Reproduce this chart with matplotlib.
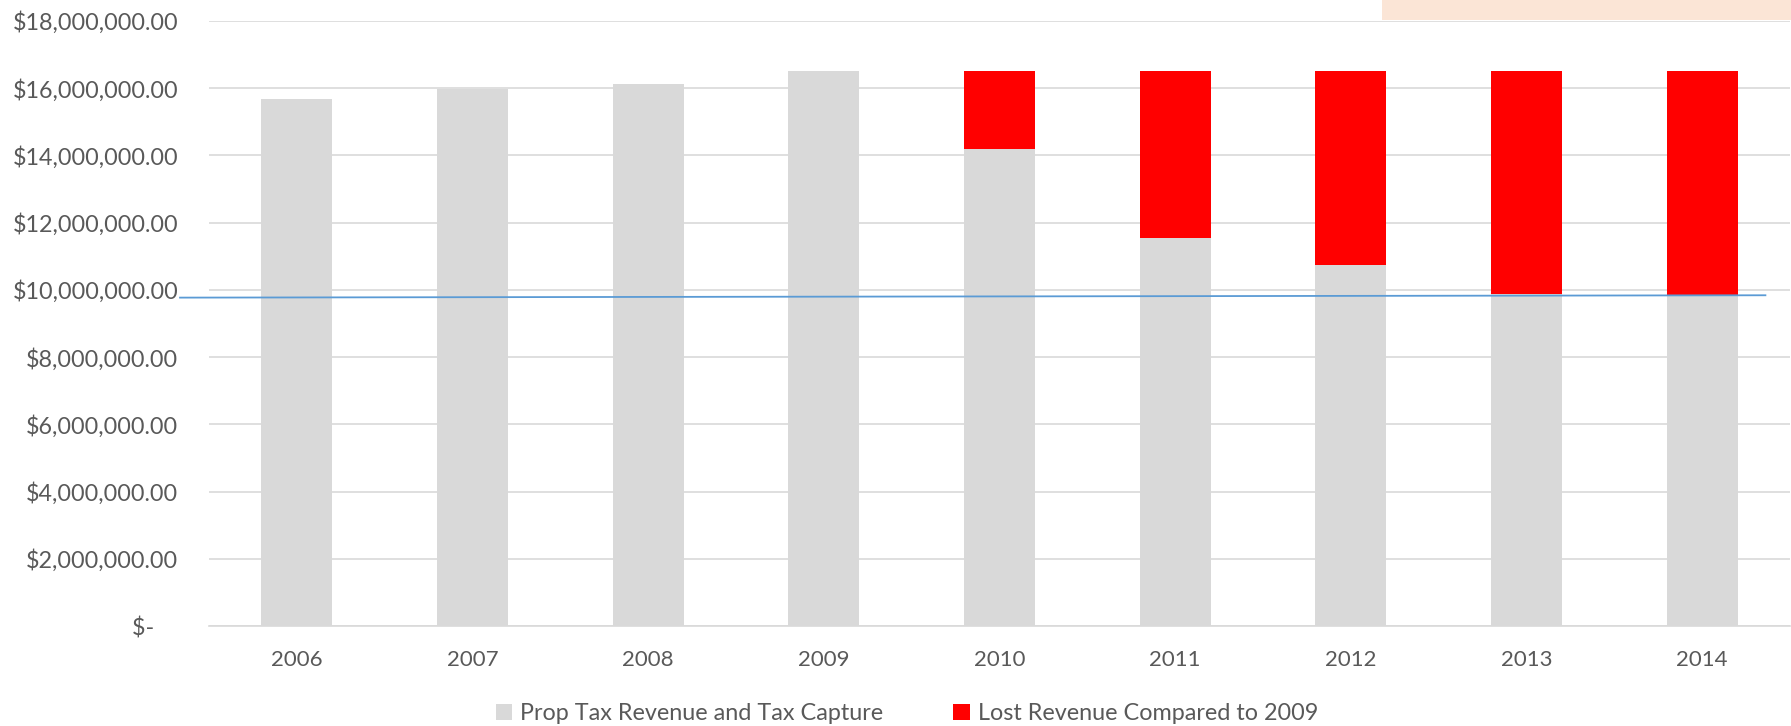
import matplotlib
matplotlib.use("Agg")
import matplotlib.pyplot as plt
from matplotlib.ticker import FuncFormatter, MultipleLocator
from matplotlib.patches import Rectangle, Patch

years = ["2006", "2007", "2008", "2009", "2010", "2011", "2012", "2013", "2014"]
prop_tax = [15.67e6, 15.99e6, 16.13e6, 16.52e6, 14.18e6, 11.54e6, 10.75e6, 9.87e6, 9.85e6]
lost_rev = [0, 0, 0, 0, 16.52e6 - 14.18e6, 16.52e6 - 11.54e6, 16.52e6 - 10.75e6,
            16.52e6 - 9.87e6, 16.52e6 - 9.85e6]
trend_x = [-0.665, 8.36]
trend_y = [9.77e6, 9.84e6]

plt.rcParams['font.family'] = ['Lato', 'DejaVu Sans']
TXT = "#595959"
W, H = 1791, 726
fig = plt.figure(figsize=(W / 100, H / 100), dpi=100)
ax = fig.add_axes([209 / W, 1 - 626 / H, (1790 - 209) / W, (626 - 21) / H])

x = list(range(len(years)))
ax.bar(x, prop_tax, width=0.404, color="#D9D9D9", zorder=2,
       label="Prop Tax Revenue and Tax Capture")
ax.bar(x, lost_rev, width=0.404, bottom=prop_tax, color="#FF0000", zorder=2,
       label="Lost Revenue Compared to 2009")

ax.plot(trend_x, trend_y, color="#5B9BD5", lw=1.3, zorder=3, clip_on=False)

ax.set_xlim(-0.5, 8.5)
ax.set_ylim(0, 18e6)
ax.yaxis.set_major_locator(MultipleLocator(2e6))


def fmt(v, pos):
    if abs(v) < 1:
        return "$-    "
    return "${:,.2f}".format(v)


ax.yaxis.set_major_formatter(FuncFormatter(fmt))
ax.set_xticks(x)
ax.set_xticklabels(years)
ax.grid(axis="y", color="#D9D9D9", lw=1.2, zorder=0)
ax.set_axisbelow(True)
for s in ["top", "right", "left"]:
    ax.spines[s].set_visible(False)
ax.spines["bottom"].set_color("#D9D9D9")
ax.spines["bottom"].set_linewidth(1.2)
ax.tick_params(axis="both", length=0, labelcolor=TXT)
ax.tick_params(axis="y", pad=22, labelsize=16.8)
ax.tick_params(axis="x", pad=17.5, labelsize=16)

# partial text box at top right
fig.patches.append(Rectangle((1382 / W, 1 - 20 / H), (W - 1382) / W, 20 / H,
                             transform=fig.transFigure, facecolor="#FBE5D6",
                             edgecolor="none", zorder=5))

handles = [Patch(facecolor="#D9D9D9", edgecolor="none"),
           Patch(facecolor="#FF0000", edgecolor="none")]
fig.legend(handles, ["Prop Tax Revenue and Tax Capture", "Lost Revenue Compared to 2009"],
           loc="center", bbox_to_anchor=(907 / W, 1 - 713.5 / H), ncol=2,
           frameon=False, fontsize=16.8, labelcolor=TXT, handlelength=0.7,
           handleheight=0.7, handletextpad=0.35, columnspacing=3.0)

fig.savefig("out.png", dpi=100)
